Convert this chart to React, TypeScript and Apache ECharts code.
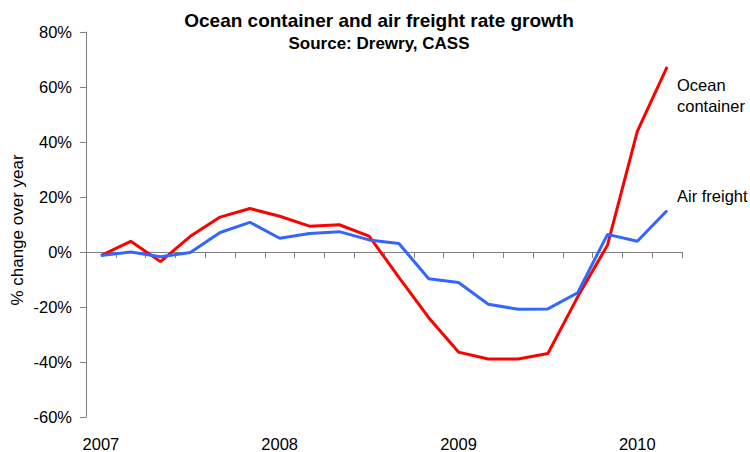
import React, { useEffect, useRef } from "react";
import * as echarts from "echarts";

// Bimonthly periods, Jan 2007 .. Mar 2010
const categories = [
  "Jan 2007", "Mar 2007", "May 2007", "Jul 2007", "Sep 2007", "Nov 2007",
  "Jan 2008", "Mar 2008", "May 2008", "Jul 2008", "Sep 2008", "Nov 2008",
  "Jan 2009", "Mar 2009", "May 2009", "Jul 2009", "Sep 2009", "Nov 2009",
  "Jan 2010", "Mar 2010",
];

const oceanContainer = [
  -1.3, 3.9, -3.5, 5.7, 12.7, 15.8, 13.0, 9.4, 9.9, 5.8,
  -9.2, -23.9, -36.4, -38.9, -38.9, -36.9, -16.3, 2.5, 43.9, 67.3,
];

const airFreight = [
  -1.3, 0.0, -1.7, -0.2, 7.1, 10.8, 5.0, 6.7, 7.4, 4.4,
  3.1, -9.7, -11.1, -19.0, -20.8, -20.7, -14.8, 6.4, 3.9, 15.1,
];

const yTicks = { min: -60, max: 80, interval: 20 };

const TITLE = "Ocean container and air freight rate growth";
const SUBTITLE = "Source: Drewry, CASS";
const Y_NAME = "% change over year";
const SERIES_NAMES = ["Ocean container", "Air freight"];

const FONT = "'Liberation Sans', Arial, Helvetica, sans-serif";

export default function App() {
  const ref = useRef<HTMLDivElement>(null);

  useEffect(() => {
    if (!ref.current) return;
    const chart = echarts.init(ref.current, undefined, { renderer: "svg" });
    const axisColor = "#808080";
    chart.setOption({
      animation: false,
      backgroundColor: "#ffffff",
      textStyle: { fontFamily: FONT },
      grid: { left: 86, right: 68, top: 32, bottom: 34, containLabel: false },
      graphic: [
        {
          type: "text",
          x: 379,
          y: 20.5,
          style: {
            text: TITLE,
            align: "center",
            verticalAlign: "middle",
            font: `bold 19px ${FONT}`,
            fill: "#000",
          },
        },
        {
          type: "text",
          x: 379,
          y: 43,
          style: {
            text: SUBTITLE,
            align: "center",
            verticalAlign: "middle",
            font: `bold 17px ${FONT}`,
            fill: "#000",
          },
        },
        {
          type: "text",
          x: 17,
          y: 230,
          rotation: Math.PI / 2,
          style: {
            text: Y_NAME,
            align: "center",
            verticalAlign: "middle",
            font: `17px ${FONT}`,
            fill: "#000",
          },
        },
        {
          type: "text",
          x: 677,
          y: 85,
          style: {
            text: "Ocean",
            align: "left",
            verticalAlign: "middle",
            font: `16.5px ${FONT}`,
            fill: "#000",
          },
        },
        {
          type: "text",
          x: 677,
          y: 106,
          style: {
            text: "container",
            align: "left",
            verticalAlign: "middle",
            font: `16.5px ${FONT}`,
            fill: "#000",
          },
        },
        {
          type: "text",
          x: 677,
          y: 196,
          style: {
            text: SERIES_NAMES[1],
            align: "left",
            verticalAlign: "middle",
            font: `16.5px ${FONT}`,
            fill: "#000",
          },
        },
      ],
      xAxis: [
        {
          type: "category",
          data: categories,
          boundaryGap: true,
          position: "bottom",
          axisLine: { show: true, onZero: true, lineStyle: { color: axisColor, width: 1 } },
          axisTick: { show: true, interval: 0, length: 6, lineStyle: { color: axisColor } },
          axisLabel: { show: false },
          splitLine: { show: false },
        },
        {
          type: "category",
          data: categories,
          boundaryGap: true,
          position: "bottom",
          axisLine: { show: false, onZero: false },
          axisTick: { show: false },
          axisLabel: {
            show: true,
            interval: 0,
            margin: 18,
            color: "#000",
            fontSize: 16.5,
            fontFamily: FONT,
            formatter: (v: string) => (v.startsWith("Jan") ? v.slice(4) : ""),
          },
          splitLine: { show: false },
        },
      ],
      yAxis: {
        type: "value",
        min: yTicks.min,
        max: yTicks.max,
        interval: yTicks.interval,
        axisLine: { show: true, lineStyle: { color: axisColor, width: 1 } },
        axisTick: { show: true, length: 6, lineStyle: { color: axisColor } },
        axisLabel: {
          margin: 14,
          color: "#000",
          fontSize: 16.5,
          fontFamily: FONT,
          formatter: (v: number) => `${v}%`,
        },
        splitLine: { show: false },
      },
      series: [
        {
          name: SERIES_NAMES[0],
          type: "line",
          xAxisIndex: 0,
          data: oceanContainer,
          symbol: "none",
          lineStyle: { color: "#ff0000", width: 3 },
          itemStyle: { color: "#ff0000" },
        },
        {
          name: SERIES_NAMES[1],
          type: "line",
          xAxisIndex: 0,
          data: airFreight,
          symbol: "none",
          lineStyle: { color: "#3366ff", width: 3 },
          itemStyle: { color: "#3366ff" },
        },
      ],
    });
    return () => chart.dispose();
  }, []);

  return (
    <div
      ref={ref}
      style={{ position: "fixed", left: 0, top: 0, width: 750, height: 452, background: "#fff" }}
    />
  );
}
